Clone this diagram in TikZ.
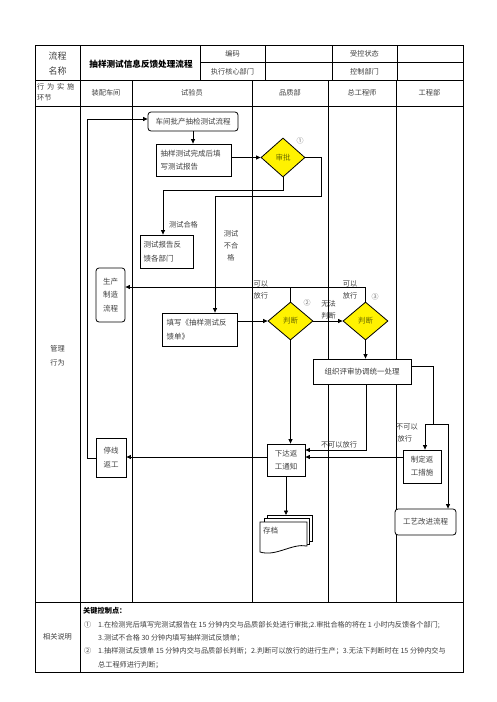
\documentclass[tikz,border=0pt]{standalone}
\usepackage{fontspec}
\setmainfont{Noto Sans CJK SC}
\usetikzlibrary{shapes.geometric,arrows.meta}
\definecolor{txt}{rgb}{0.25,0.25,0.25}
\definecolor{diatxt}{rgb}{0.42,0.42,0}
\definecolor{numc}{rgb}{0.45,0.45,0.45}
\begin{document}
\begin{tikzpicture}[x=1pt,y=-1pt,
  every node/.style={text=txt, font=\fontsize{7.5}{13}\selectfont},
  box/.style={draw=black, line width=0.8pt, fill=white, inner sep=1pt, align=center},
  rbox/.style={box, rounded corners=3pt},
  dia/.style={diamond, draw=black, line width=0.8pt, fill=yellow, inner sep=0pt, text=diatxt, minimum width=44pt, minimum height=39pt},
  conn/.style={line width=0.8pt, draw=black},
  arr/.style={conn, -{Triangle[length=4.5pt,width=4pt]}},
  lane/.style={line width=0.8pt},
  lbl/.style={inner sep=0pt, align=center, font=\fontsize{7.2}{12}\selectfont},
  num/.style={inner sep=0pt, text=numc, font=\fontsize{7}{8}\selectfont},
  hdr/.style={inner sep=0pt, font=\fontsize{7.2}{9}\selectfont},
  note/.style={inner sep=0pt, anchor=west, font=\fontsize{7.15}{8}\selectfont},
]
\useasboundingbox (0,0) rectangle (496,702);
\fill[white] (0,0) rectangle (496,702);

% table frame
\draw[lane] (35,45) rectangle (463,672);
\draw[lane] (35,80) -- (463,80);
\draw[lane] (35,106) -- (463,106);
\draw[lane] (35,602) -- (463,602);
\draw[lane] (200,62.5) -- (463,62.5);
\draw[lane] (80,45) -- (80,672);
\foreach \xx in {200,265,332,397} \draw[lane] (\xx,45) -- (\xx,80);
\foreach \xx in {132,252,328,396} \draw[lane] (\xx,80) -- (\xx,602);

% header texts
\node[hdr, font=\fontsize{9}{15}\selectfont, align=center] (h1) at (57.5,63.5) {流程\\名称};
\node[hdr, font=\bfseries\fontsize{8.6}{10}\selectfont, text=black] (h2) at (141,64) {抽样测试信息反馈处理流程};
\node[hdr] (h3) at (232.5,54) {编码};
\node[hdr] (h4) at (232.5,71.5) {执行核心部门};
\node[hdr] (h5) at (364.5,54) {受控状态};
\node[hdr] (h6) at (364.5,71.5) {控制部门};
\node[hdr, anchor=west] (h7) at (37,86.5) {行\hspace{2.8pt}为\hspace{2.8pt}实\hspace{2.8pt}施};
\node[hdr, anchor=west] (h8) at (37,97.5) {环节};
\node[hdr] (h9) at (106,93) {装配车间};
\node[hdr] (h10) at (192,93) {试验员};
\node[hdr] (h11) at (290,93) {品质部};
\node[hdr] (h12) at (362,93) {总工程师};
\node[hdr] (h13) at (429.5,93) {工程部};
\node[hdr, align=center, font=\fontsize{7.2}{14.5}\selectfont] (h14) at (57.5,356) {管理\\行为};
\node[hdr] (h15) at (57.5,637) {相关说明};

% notes
\node[note, font=\bfseries\fontsize{7.2}{8}\selectfont, text=black] (k0) at (83,611) {关键控制点：};
\node[note] (k1) at (84,625) {①};
\node[note] (k2) at (98,625) {1.在检测完后填写完测试报告在 15 分钟内交与品质部长处进行审批;2.审批合格的将在 1 小时内反馈各个部门;};
\node[note] (k3) at (98,638) {3.测试不合格 30 分钟内填写抽样测试反馈单；};
\node[note] (k4) at (84,651) {②};
\node[note] (k5) at (98,651) {1.抽样测试反馈单 15 分钟内交与品质部长判断；2.判断可以放行的进行生产；3.无法下判断时在 15 分钟内交与};
\node[note] (k6) at (98,665) {总工程师进行判断；};

% flow nodes
\node[rbox, minimum width=90pt, minimum height=19pt] (n1) at (193,121.5) {车间批产抽检测试流程};
\node[box, minimum width=75pt, minimum height=32pt, text width=66pt, align=left] (n2) at (193.5,160) {抽样测试完成后填\\写测试报告};
\node[box, minimum width=53pt, minimum height=33pt, text width=46pt, align=left, font=\fontsize{7.5}{14}\selectfont] (n3) at (166.5,251.5) {测试报告反\\馈各部门};
\node[box, minimum width=75pt, minimum height=33pt, text width=66pt, align=left, font=\fontsize{7.5}{14}\selectfont] (n4) at (199.5,329.5) {填写《抽样测试反\\馈单》};
\node[rbox, minimum width=29pt, minimum height=54pt, font=\fontsize{7.5}{13.5}\selectfont] (n5) at (110.5,295) {生产\\制造\\流程};
\node[box, minimum width=30pt, minimum height=39pt, font=\fontsize{7.5}{14}\selectfont] (n6) at (111,457.5) {停线\\返工};
\node[box, minimum width=38pt, minimum height=32pt] (n7) at (286,460) {下达返\\工通知};
\node[box, minimum width=98pt, minimum height=25pt] (n8) at (362,371.5) {组织评审协调统一处理};
\node[box, minimum width=38pt, minimum height=33pt] (n9) at (422,466.5) {制定返\\工措施};
\node[rbox, minimum width=61pt, minimum height=26pt] (n10) at (425.5,522) {工艺改进流程};

\node[dia] (d1) at (283,157.5) {审批};
\node[dia, minimum width=45pt, minimum height=38pt] (d2) at (290.5,321) {判断};
\node[dia, minimum width=45pt, minimum height=38pt] (d3) at (365.5,321) {判断};

% archive (multi document)
\coordinate (arch) at (286,515);
\draw[conn, fill=white] (267,515) -- (312,515) -- (312,541) -- (267,541) -- cycle;
\draw[conn, fill=white] (264,518) -- (309,518) -- (309,544) -- (264,544) -- cycle;
\draw[conn, fill=white] (260,522) -- (307,522) -- (307,546) .. controls (292,543) and (276,557) .. (260,552) -- cycle;
\node[anchor=west, inner sep=0pt] (archt) at (263,531) {存档};

% labels
\node[lbl] (l1) at (183.5,225) {测试合格};
\node[lbl] (l2) at (231,245.5) {测试\\不合\\格};
\node[lbl, anchor=west] (l3) at (253.5,290) {可以\\放行};
\node[lbl] (l4) at (350,290) {可以\\放行};
\node[lbl] (l5) at (328.5,309.5) {无法\\判断};
\node[lbl] (l6) at (339,445) {不可以放行};
\node[lbl, align=left, anchor=west] (l7) at (396,433) {不可以\\\hspace{1.5pt}放行};
\node[num] (c1) at (300,141) {①};
\node[num] (c2) at (307,303) {②};
\node[num] (c3) at (375,297) {③};

% connectors
\draw[arr] (n1.south) -- (n1.south |- n2.north);
\draw[arr] (n2.east |- d1.west) -- (d1.west);
\draw[arr] (d1.south) -- (d1.south |- 0,190) -- (163,190) -- (163,0 |- n3.north);
\draw[arr] (d1.east) -- (321,157.5) -- (321,196) -- (215,196) -- (215,0 |- n4.north);
\draw[arr] (n4.east |- d2.west) -- (d2.west);
\draw[arr] (d2.east) -- (d3.west);
\draw[conn] (d2.north) -- (d2.north |- 0,287);
\draw[arr] (d3.north) -- (d3.north |- 0,287) -- (n5.east |- 0,287);
\draw[arr] (d2.south) -- (d2.south |- n7.north);
\draw[arr] (d3.south) -- (d3.south |- n8.north);
\draw[arr] (366,0 |- n8.south) -- (366,450) -- (n7.east |- 0,450);
\draw[conn] (n8.east |- 0,366) -- (433,366) -- (433,424);
\draw[arr] (433,424) -- (425,424) -- (425,0 |- n9.north);
\draw[arr] (433,424) -- (448,424) -- (448,0 |- n10.north);
\draw[arr] (n9.west |- 0,457) -- (n7.east |- 0,457);
\draw[arr] (n7.west |- 0,457) -- (n6.east |- 0,457);
\draw[arr] (n6.west |- 0,458) -- (87,458) -- (87,119) -- (n1.west |- 0,119);
\draw[arr] (n7.south) -- (arch);
\end{tikzpicture}
\end{document}
